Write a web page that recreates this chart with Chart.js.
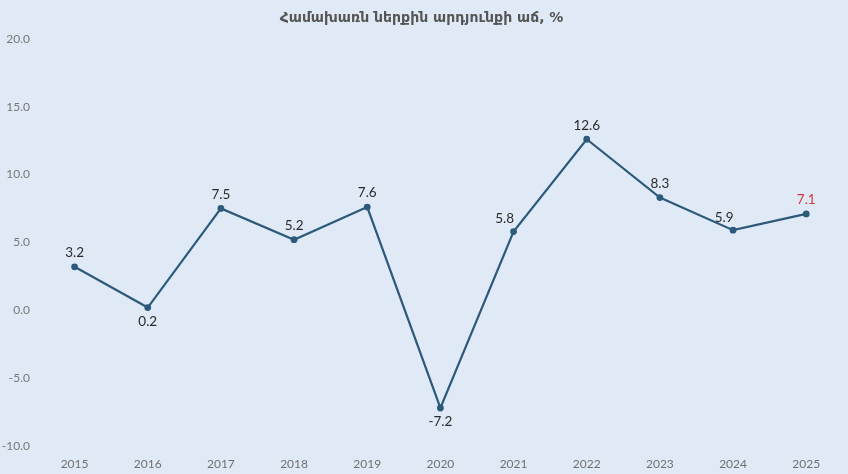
<!DOCTYPE html>
<html>
<head>
<meta charset="utf-8">
<script src="https://cdn.jsdelivr.net/npm/chart.js@4"></script>
<style>
  html, body { margin: 0; padding: 0; background: #dfeaf6; }
  #wrap { width: 848px; height: 474px; }
</style>
</head>
<body>
<div id="wrap"><canvas id="growthChart"></canvas></div>
<script>
const years = ['2015', '2016', '2017', '2018', '2019', '2020', '2021', '2022', '2023', '2024', '2025'];
const growth = [3.2, 0.2, 7.5, 5.2, 7.6, -7.2, 5.8, 12.6, 8.3, 5.9, 7.1];
const yTicks = [-10, -5, 0, 5, 10, 15, 20];
// where each value label sits relative to its point
const labelSide = ['up', 'down', 'up', 'up', 'up', 'down', 'upleft', 'up', 'up', 'upleft', 'up'];

const pointLabels = {
    id: 'pointLabels',
    afterDatasetsDraw(chart) {
        const ctx = chart.ctx;
        const meta = chart.getDatasetMeta(0);
        ctx.save();
        ctx.font = '13.5px Lato, "DejaVu Sans", sans-serif';
        ctx.textAlign = 'center';
        ctx.textBaseline = 'middle';
        meta.data.forEach((pt, i) => {
            let dx = 0, dy = -14;
            if (labelSide[i] === 'down') dy = 14;
            if (labelSide[i] === 'upleft') { dx = -9; dy = -13; }
            ctx.fillStyle = i === growth.length - 1 ? '#d0393b' : '#2a2a2a';
            ctx.fillText(growth[i].toFixed(1), pt.x + dx, pt.y + dy);
        });
        ctx.restore();
    }
};

var ctx = document.getElementById('growthChart').getContext('2d');
var growthChart = new Chart(ctx, {
    type: 'line',
    data: {
        labels: years,
        datasets: [{
            label: 'Աճ',
            data: growth,
            borderColor: '#2d5a7b',
            backgroundColor: '#2d5a7b',
            borderWidth: 2.2,
            pointRadius: 2.3,
            pointHoverRadius: 3,
            tension: 0,
            fill: false
        }]
    },
    options: {
        responsive: true,
        maintainAspectRatio: false,
        animation: false,
        layout: { padding: { left: 0, right: 5, top: 0, bottom: 4 } },
        plugins: {
            legend: { display: false },
            tooltip: { enabled: false },
            title: {
                display: true,
                text: 'Համախառն ներքին արդյունքի աճ, %',
                color: '#555555',
                font: { family: '"DejaVu Sans", sans-serif', size: 14, weight: 'bold' },
                padding: { top: 10, bottom: 12 }
            }
        },
        scales: {
            x: {
                offset: true,
                grid: { display: false, drawTicks: false },
                border: { display: false },
                afterFit(scale) { scale.height = 24; },
                ticks: {
                    color: '#707070',
                    font: { family: 'Lato, sans-serif', size: 12 },
                    padding: 11
                }
            },
            y: {
                min: -10,
                max: 20,
                grid: { display: false, drawTicks: false },
                border: { display: false },
                afterBuildTicks(scale) {
                    scale.ticks = yTicks.map(v => ({ value: v }));
                },
                afterFit(scale) { scale.width = 38; },
                ticks: {
                    color: '#777777',
                    font: { family: 'Lato, sans-serif', size: 12 },
                    padding: 8,
                    callback: v => Number(v).toFixed(1)
                }
            }
        }
    },
    plugins: [pointLabels]
});
</script>
</body>
</html>
